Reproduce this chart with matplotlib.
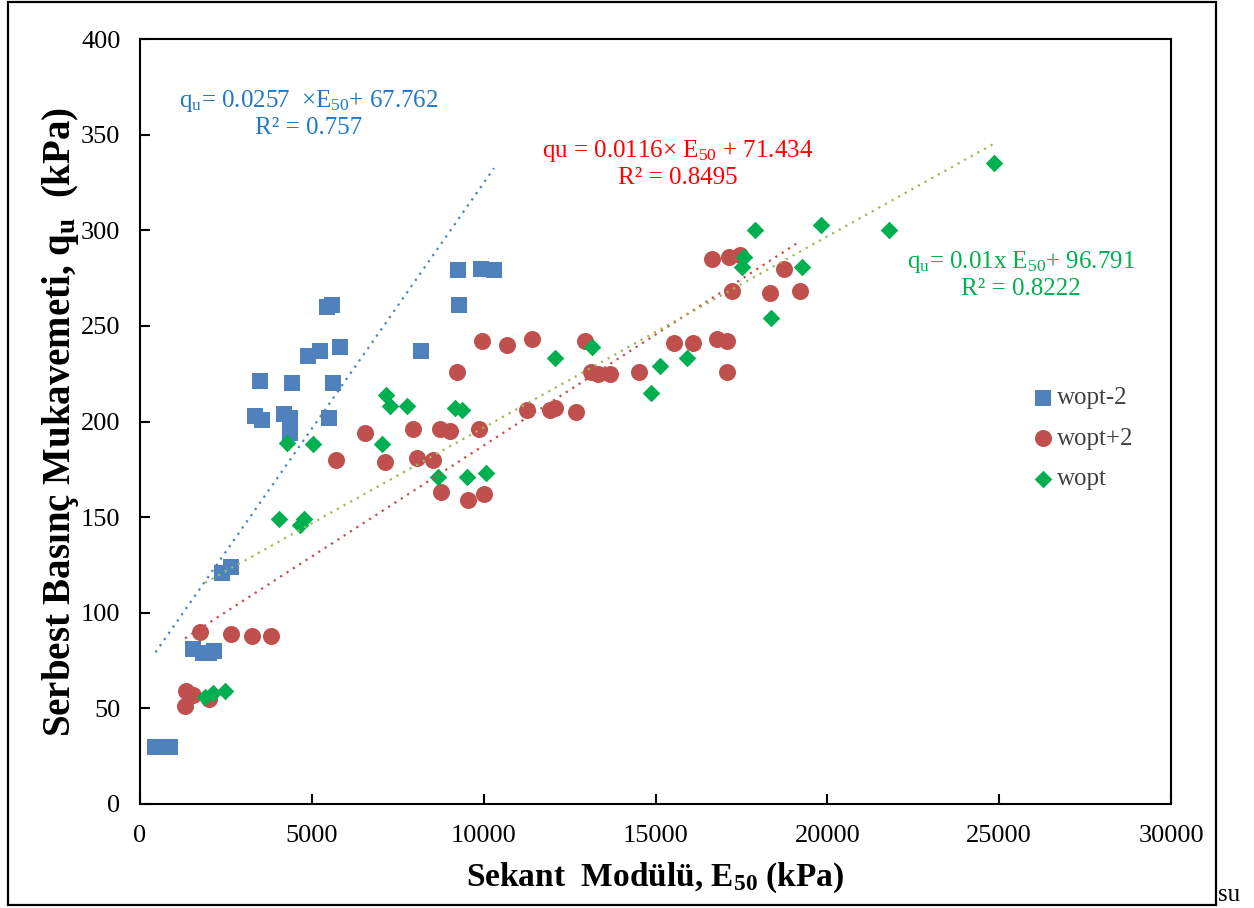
import matplotlib
matplotlib.use("Agg")
import matplotlib.pyplot as plt
import numpy as np
from matplotlib.patches import Rectangle

plt.rcParams['font.family'] = ['Liberation Serif', 'DejaVu Serif']
plt.rcParams['mathtext.fontset'] = 'custom'
plt.rcParams['mathtext.rm'] = 'Liberation Serif'
plt.rcParams['mathtext.it'] = 'Liberation Serif:italic'
plt.rcParams['mathtext.bf'] = 'Liberation Serif:bold'

# E50 (kPa) ve qu (kPa) - wopt-2
blue_x = [450, 870, 1550, 1830, 2000, 2160, 2390, 2650, 3350, 3540, 3500, 4200, 4370, 4360,
          4420, 4890, 5240, 5830, 5440, 5580, 5630, 5500, 8190, 9240, 9270, 9930, 10300]
blue_y = [30, 30, 81, 79, 79, 80, 121, 124, 203, 201, 221, 204, 202, 194,
          220, 234, 237, 239, 260, 261, 220, 202, 237, 279, 261, 280, 279]

# wopt+2
red_x = [1310, 1340, 1550, 2020, 1750, 2650, 3250, 3820, 5710, 6560, 7140, 7940, 8060, 8530,
         8740, 9030, 9230, 9860, 9950, 10680, 8770, 9530, 10000, 11410, 11260, 11920, 12090,
         12700, 12960, 13110, 13330, 13670, 14520, 15540, 16100, 16650, 17140, 17460, 16800,
         17070, 17070, 17220, 18320, 18740, 19200]
red_y = [51, 59, 57, 55, 90, 89, 88, 88, 180, 194, 179, 196, 181, 180,
         196, 195, 226, 196, 242, 240, 163, 159, 162, 243, 206, 206, 207,
         205, 242, 226, 225, 225, 226, 241, 241, 285, 286, 287, 243,
         242, 226, 268, 267, 280, 268]

# wopt
green_x = [1890, 2110, 2480, 4050, 4660, 4760, 4270, 5020, 7040, 7160, 7260, 7770, 8670, 9160,
           9370, 9520, 10080, 12090, 13160, 14860, 15130, 15910, 17530, 17580, 17890, 18350,
           19260, 19830, 21800, 24860]
green_y = [56, 58, 59, 149, 146, 149, 189, 188, 188, 214, 208, 208, 171, 207,
           206, 171, 173, 233, 239, 215, 229, 233, 281, 286, 300, 254,
           281, 303, 300, 335]

# trend çizgileri (eğim, kesişim)
fit_blue = (0.0257, 67.762)
fit_red = (0.0116, 71.434)
fit_green = (0.01, 96.791)

c_blue = '#4F81BD'
c_red = '#C0504D'
c_green = '#00B050'
c_green_line = '#9BBB59'

fig = plt.figure(figsize=(12.54, 9.08), dpi=100)
ax = fig.add_axes([140 / 1254, 1 - 804 / 908, 1031 / 1254, 765 / 908])

def trend(xs, fit, color):
    xx = np.array([min(xs), max(xs)])
    ax.plot(xx, fit[0] * xx + fit[1], color=color, lw=1.6,
            linestyle=(0, (1, 2.4)), zorder=3)

trend(blue_x, fit_blue, c_blue)
trend(red_x, fit_red, c_red)
trend(green_x, fit_green, c_green_line)

ax.scatter(blue_x, blue_y, marker='s', s=130, color=c_blue, label='wopt-2', zorder=2, linewidths=0)
ax.scatter(red_x, red_y, marker='o', s=150, color=c_red, label='wopt+2', zorder=2, linewidths=0)
ax.scatter(green_x, green_y, marker='D', s=80, color=c_green, label='wopt', zorder=2, linewidths=0)

ax.set_xlim(0, 30000)
ax.set_ylim(0, 400)
ax.set_xticks(np.arange(0, 30001, 5000))
ax.set_yticks(np.arange(0, 401, 50))
ax.tick_params(direction='in', length=7, width=1.5, labelsize=19, top=False, right=False)
ax.tick_params(axis='x', pad=15)
ax.tick_params(axis='y', pad=14)
for sp in ax.spines.values():
    sp.set_linewidth(1.5)
    sp.set_color('black')

ax.set_xlabel(r'Sekant  Modülü, E$_\mathbf{50}$ (kPa)', fontsize=24, fontweight='bold', labelpad=10)
ax.set_ylabel(r'Serbest Basınç Mukavemeti, q$_\mathbf{u}$  (kPa)', fontsize=28,
              fontweight='bold', labelpad=0)

ax.text(4920, 361, 'q$_\\mathrm{u}$= 0.0257  ×E$_{50}$+ 67.762\nR² = 0.757', color='#1F77C8',
        fontsize=18, ha='center', va='center', multialignment='center')
ax.text(15640, 335, 'qu = 0.0116× E$_{50}$ + 71.434\nR² = 0.8495', color='#FF0000',
        fontsize=18, ha='center', va='center', multialignment='center')
ax.text(25630, 277, 'q$_\\mathrm{u}$= 0.01x E$_{50}$+ 96.791\nR² = 0.8222', color=c_green,
        fontsize=18, ha='center', va='center', multialignment='center')

leg = ax.legend(loc='upper left', bbox_to_anchor=(0.852, 0.562), frameon=False, fontsize=18,
                handletextpad=0.05, labelspacing=0.72, borderpad=0, handlelength=1.0)
for t in leg.get_texts():
    t.set_color('#404040')

# dış çerçeve
fig.patches.append(Rectangle((8 / 1254, 1 - 905 / 908), 1208 / 1254, 903 / 908,
                             transform=fig.transFigure, fill=False, lw=1.6, ec='black'))
fig.text(1218 / 1254, 1 - 906 / 908, 'su', fontsize=18, ha='left', va='bottom')

fig.savefig('out.png', dpi=100)
